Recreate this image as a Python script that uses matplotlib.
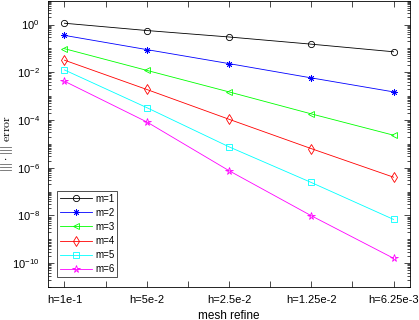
import numpy as np
import matplotlib
matplotlib.use('Agg')
import matplotlib.pyplot as plt
from matplotlib.ticker import LogLocator, NullFormatter

plt.rcParams['font.family'] = ['Liberation Sans', 'DejaVu Sans']
plt.rcParams['mathtext.fontset'] = 'cm'

x_labels = ['h=1e-1', 'h=5e-2', 'h=2.5e-2', 'h=1.25e-2', 'h=6.25e-3']
x_pos = [1, 2, 3, 4, 5]

err_m1 = [1.13, 0.56, 0.30, 0.15, 0.072]
err_m2 = [0.35, 0.089, 0.023, 0.0058, 0.0015]
err_m3 = [0.097, 0.012, 0.0015, 1.8e-4, 2.3e-5]
err_m4 = [0.032, 0.0019, 1.07e-4, 6.3e-6, 4.0e-7]
err_m5 = [0.0125, 3.3e-4, 7.5e-6, 2.4e-7, 6.8e-9]
err_m6 = [0.0042, 8.3e-5, 7.5e-7, 9.7e-9, 1.6e-10]

series = [err_m1, err_m2, err_m3, err_m4, err_m5, err_m6]
names = ['m=1', 'm=2', 'm=3', 'm=4', 'm=5', 'm=6']
colors = ['k', '#0000ff', '#00ff00', '#ff0000', '#00ffff', '#ff00ff']
markers = ['o', (8, 2, 0), '<', 'd', 's', '*']  # (8,2,0) = matlab-like asterisk
msizes = [4.5, 4.5, 5, 5, 4, 5.5]

fig = plt.figure(figsize=(4.19, 3.2), dpi=100)
ax = fig.add_axes([0.1146, 0.103, 0.864, 0.895])

for vals, nm, c, mk, ms in zip(series, names, colors, markers, msizes):
    ax.semilogy(x_pos, vals, color=c, marker=mk, markersize=ms, markerfacecolor='none',
                markeredgecolor=c, linewidth=0.6, markeredgewidth=0.6, label=nm)

ax.set_xlim(0.8, 5.2)
ax.set_ylim(1e-11, 1e1)

ticks = np.arange(1, 5.01, 0.5)
ax.set_xticks(ticks)
ax.set_xticklabels([x_labels[int(t) - 1] if t == int(t) else '' for t in ticks])
ax.set_yticks([1e-10, 1e-8, 1e-6, 1e-4, 1e-2, 1e0])
ax.yaxis.set_minor_locator(LogLocator(base=10, subs=np.arange(1, 10), numticks=100))
ax.yaxis.set_minor_formatter(NullFormatter())

ax.tick_params(which='both', direction='in', top=True, right=True, labelsize=8, width=0.5)
ax.tick_params(which='major', length=4, pad=6)
ax.tick_params(which='minor', length=2)
for s in ax.spines.values():
    s.set_linewidth(0.6)

ax.set_xlabel('mesh refine', fontsize=8.5, labelpad=3)
ax.set_ylabel(r'$|||\cdot|||\ \mathrm{error}$', fontsize=8.5)
ax.yaxis.set_label_coords(-0.09, 0.5)

leg = ax.legend(loc='lower left', bbox_to_anchor=(0.025, 0.035), fontsize=7, fancybox=False,
                edgecolor='#333333', framealpha=1, handlelength=3.3, borderpad=0.3,
                labelspacing=0.42, handletextpad=0.3, borderaxespad=0)
leg.get_frame().set_linewidth(0.6)

fig.savefig('out.png', dpi=100)
